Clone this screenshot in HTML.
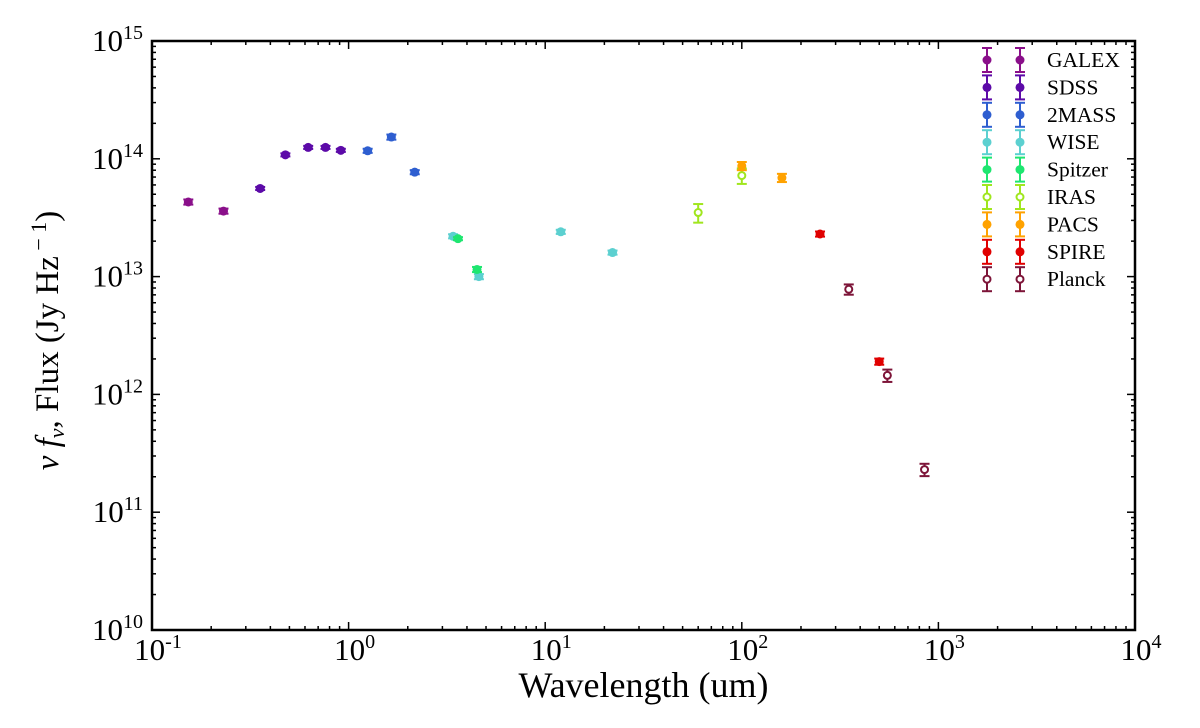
<!DOCTYPE html>
<html><head><meta charset="utf-8"><style>
body{margin:0;background:#fff}
svg{font-family:"Liberation Serif","DejaVu Serif",serif}
</style></head><body>
<svg id="c" width="1200" height="723"></svg>
<script>
const series=["GALEX","SDSS","2MASS","WISE","Spitzer","IRAS","PACS","SPIRE","Planck"];
const colors=["#8a0f8a","#5c0aa8","#2e5ed0","#5cd0d0","#1ee670","#a0e61e","#ffa200","#e00000","#7d1438"];
const hollow=[false,false,false,false,false,true,false,false,true];
const wl=[[0.153,0.231],[0.355,0.477,0.623,0.763,0.913],[1.25,1.65,2.17],[3.4,4.6,12,22],[3.6,4.5],[60,100],[100,160],[250,500],[350,550,850]];
const flux=[[4.3e13,3.6e13],[5.6e13,1.08e14,1.25e14,1.25e14,1.18e14],[1.17e14,1.53e14,7.7e13],[2.2e13,1.0e13,2.4e13,1.6e13],[2.1e13,1.15e13],[3.5e13,7.2e13],[8.7e13,6.9e13],[2.3e13,1.9e12],[7.8e12,1.45e12,2.3e11]];
const ferr=[[0.05,0.05],[0.03,0.03,0.03,0.03,0.03],[0.04,0.05,0.04],[0.04,0.05,0.04,0.04],[0.03,0.05],[0.18,0.15],[0.08,0.08],[0.05,0.06],[0.1,0.12,0.12]];
const xTicks=[-1,0,1,2,3,4], yTicks=[10,11,12,13,14,15];
const L=152,R=1135,T=41,B=630;
const X=v=>L+(Math.log10(v)+1)/5*(R-L);
const Y=v=>B-(Math.log10(v)-10)/5*(B-T);
const svg=document.getElementById('c');const NS='http://www.w3.org/2000/svg';
function mk(t,a,p){const e=document.createElementNS(NS,t);for(const k in a)e.setAttribute(k,a[k]);(p||svg).appendChild(e);return e;}
const fr=mk('rect',{x:L,y:T,width:R-L,height:B-T,fill:'none',stroke:'#000','stroke-width':2.5});


for(let d=-1;d<4;d++)for(let m=1;m<10;m++){const x=X(m*Math.pow(10,d));const len=m==1?8:4;
mk('line',{x1:x,x2:x,y1:B,y2:B-len,stroke:'#000','stroke-width':1.5});mk('line',{x1:x,x2:x,y1:T,y2:T+len,stroke:'#000','stroke-width':1.5});}
for(let d=10;d<15;d++)for(let m=1;m<10;m++){const y=Y(m*Math.pow(10,d));const len=m==1?8:4;
mk('line',{y1:y,y2:y,x1:L,x2:L+len,stroke:'#000','stroke-width':1.5});mk('line',{y1:y,y2:y,x1:R,x2:R-len,stroke:'#000','stroke-width':1.5});}
xTicks.forEach(e=>{const t=mk('text',{x:X(Math.pow(10,e))+6,y:B+30,'text-anchor':'middle','font-size':31});


t.innerHTML='10<tspan dy="-12" font-size="20">'+e+'</tspan>';});
yTicks.forEach(e=>{const t=mk('text',{x:L-9,y:Y(Math.pow(10,e))+10,'text-anchor':'end','font-size':31});


t.innerHTML='10<tspan dy="-12" font-size="20">'+e+'</tspan>';});
const xt=mk('text',{x:(L+R)/2,y:697,'text-anchor':'middle','font-size':36});xt.textContent='Wavelength (um)';


const yt=mk('text',{x:0,y:0,'text-anchor':'middle','font-size':33,transform:'translate(58,'+((T+B)/2+5)+') rotate(-90)'});
yt.innerHTML='<tspan font-style="italic">ν f<tspan font-size="22" dy="6">ν</tspan></tspan><tspan dy="-6">, Flux (Jy Hz</tspan><tspan dy="-12" font-size="22"> − 1</tspan><tspan dy="12">)</tspan>';


function marker(g,x,y,yl,yh,c,h){mk('line',{x1:x,x2:x,y1:yl,y2:yh,stroke:c,'stroke-width':2},g);
mk('line',{x1:x-5,x2:x+5,y1:yl,y2:yl,stroke:c,'stroke-width':2},g);mk('line',{x1:x-5,x2:x+5,y1:yh,y2:yh,stroke:c,'stroke-width':2},g);
mk('circle',{cx:x,cy:y,r:h?3.5:4.5,fill:h?'#fff':c,stroke:c,'stroke-width':h?2:0},g);}
series.forEach((s,i)=>{const g=mk('g',{});


wl[i].forEach((w,j)=>{const f=flux[i][j],e=ferr[i][j];marker(g,X(w),Y(f),Y(f*(1-e)),Y(f*(1+e)),colors[i],hollow[i]);});
const ly=60+i*27.4;const lg=mk('g',{});


marker(lg,987,ly,ly+12,ly-12,colors[i],hollow[i]);marker(lg,1020,ly,ly+12,ly-12,colors[i],hollow[i]);
const t=mk('text',{x:1047,y:ly+7,'font-size':21.5},lg);t.textContent=s;});
</script>
</body></html>
